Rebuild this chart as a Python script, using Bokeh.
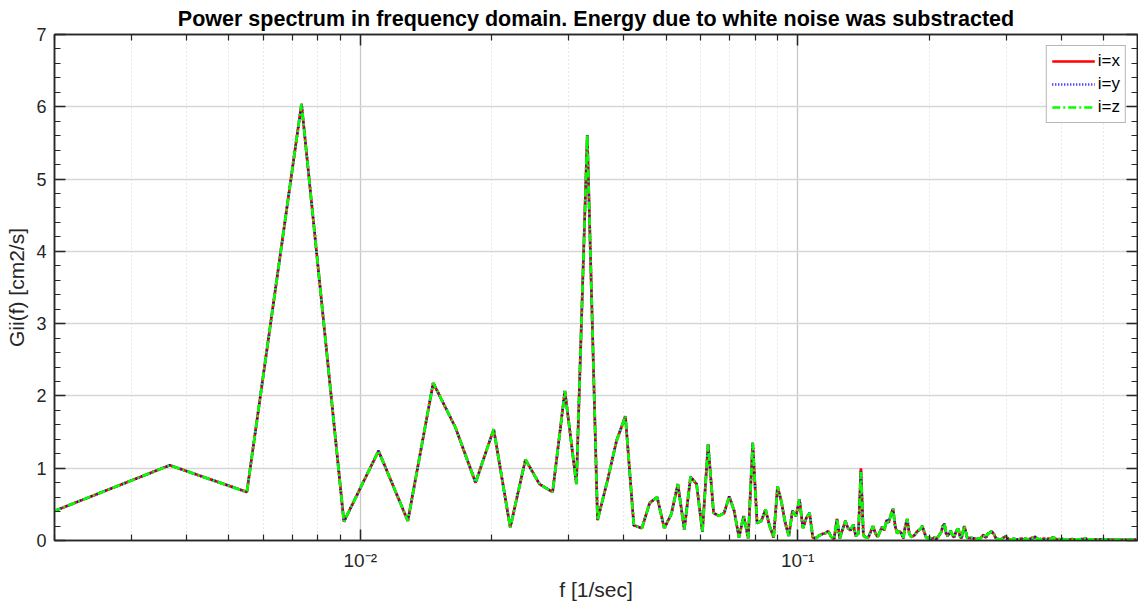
from bokeh.plotting import figure
from bokeh.models import (LogAxis, LinearAxis, FixedTicker, SingleIntervalTicker,
                          Legend, LegendItem, Range1d, CustomJSTickFormatter)
from bokeh.embed import file_html
from bokeh.resources import INLINE

# ---------------- data ----------------
df = 0.001835          # frequency resolution [1/sec]
n_points = 326
freq = [(k + 1) * df for k in range(n_points)]

g_x = [
    0.32, 1.04, 0.67, 6.04, 0.26, 1.24, 0.27, 2.18, 1.56, 0.80,
    1.54, 0.18, 1.12, 0.78, 0.67, 2.07, 0.78, 5.61, 0.28, 0.82,
    1.38, 1.72, 0.21, 0.17, 0.52, 0.60, 0.17, 0.36, 0.78, 0.15,
    0.88, 0.78, 0.12, 1.33, 0.38, 0.34, 0.38, 0.61, 0.41, 0.04,
    0.34, 0.03, 1.35, 0.24, 0.27, 0.43, 0.20, 0.04, 0.75, 0.54,
    0.25, 0.06, 0.41, 0.34, 0.57, 0.17, 0.31, 0.38, 0.04, 0.03,
    0.07, 0.09, 0.10, 0.13, 0.05, 0.02, 0.30, 0.03, 0.15, 0.27,
    0.17, 0.14, 0.22, 0.06, 0.10, 1.00, 0.07, 0.04, 0.04, 0.12,
    0.20, 0.10, 0.05, 0.12, 0.19, 0.14, 0.28, 0.25, 0.36, 0.44,
    0.20, 0.10, 0.13, 0.10, 0.03, 0.20, 0.30, 0.10, 0.05, 0.06,
    0.08, 0.12, 0.14, 0.16, 0.20, 0.12, 0.05, 0.03, 0.04, 0.02,
    0.03, 0.04, 0.02, 0.05, 0.08, 0.12, 0.20, 0.23, 0.10, 0.06,
    0.10, 0.13, 0.08, 0.04, 0.10, 0.15, 0.16, 0.06, 0.03, 0.12,
    0.20, 0.12, 0.03, 0.04, 0.03, 0.04, 0.03, 0.03, 0.02, 0.02,
    0.03, 0.02, 0.04, 0.06, 0.08, 0.05, 0.04, 0.09, 0.10, 0.11,
    0.13, 0.11, 0.09, 0.05, 0.03, 0.02, 0.02, 0.01, 0.02, 0.03,
    0.04, 0.05, 0.06, 0.04, 0.02,
    0.01, 0.02, 0.01, 0.02, 0.03, 0.02, 0.01, 0.02, 0.01, 0.02,
    0.02, 0.03, 0.02, 0.01, 0.02, 0.03, 0.02, 0.01, 0.02, 0.02,
    0.03, 0.04, 0.03, 0.04, 0.05, 0.04, 0.03, 0.02, 0.01, 0.02,
    0.02, 0.01, 0.02, 0.03, 0.02, 0.02, 0.01, 0.02, 0.03, 0.02,
    0.02, 0.03, 0.04, 0.03, 0.04, 0.03, 0.02, 0.02, 0.01, 0.02,
    0.02, 0.01, 0.01, 0.02, 0.02, 0.01, 0.02, 0.01, 0.01, 0.02,
    0.01, 0.02, 0.01, 0.01, 0.02, 0.02, 0.01, 0.02, 0.01, 0.01,
    0.02, 0.01, 0.02, 0.01, 0.02, 0.01, 0.02, 0.02, 0.01, 0.02,
    0.02, 0.03, 0.03, 0.02, 0.02, 0.01, 0.02, 0.01, 0.01, 0.02,
    0.01, 0.01, 0.02, 0.01, 0.01, 0.02, 0.01, 0.01, 0.01, 0.02,
    0.01, 0.01, 0.02, 0.01, 0.01, 0.01, 0.02, 0.01, 0.01, 0.01,
    0.02, 0.01, 0.01, 0.01, 0.02, 0.01, 0.01, 0.02, 0.01, 0.01,
    0.01, 0.01, 0.02, 0.01, 0.01, 0.01, 0.01, 0.02, 0.01, 0.01,
    0.01, 0.02, 0.01, 0.01, 0.01, 0.01, 0.01, 0.02, 0.01, 0.01,
    0.01, 0.01, 0.01, 0.02, 0.01, 0.01, 0.01, 0.01, 0.01, 0.02,
    0.01, 0.01, 0.01, 0.01, 0.02, 0.01, 0.01, 0.01, 0.01, 0.01, 0.01,
]
# the y and z components coincide with x except for the 0.14 Hz peak
g_y = list(g_x)
g_y[75] = 0.96
g_z = list(g_x)
g_z[75] = 0.95

series_labels = ["i=x", "i=y", "i=z"]
x_major_ticks = [0.01, 0.1]
x_minor_ticks = [0.002, 0.003, 0.004, 0.005, 0.006, 0.007, 0.008, 0.009,
                 0.02, 0.03, 0.04, 0.05, 0.06, 0.07, 0.08, 0.09,
                 0.2, 0.3, 0.4, 0.5]
x_tick_labels = {0.01: "10\u207b\u00b2", 0.1: "10\u207b\u00b9"}

# ---------------- figure ----------------
FONT = "Liberation Sans"
AX = "#262626"

p = figure(width=1138, height=605, x_axis_type="log",
           x_range=Range1d(0.002, 0.598), y_range=Range1d(0, 7),
           output_backend="svg", toolbar_location=None,
           min_border_left=54, min_border_right=1,
           min_border_top=34, min_border_bottom=65)
p.background_fill_color = "white"
p.border_fill_color = "white"
p.outline_line_color = AX
p.outline_line_width = 1.5

p.title.text = "Power spectrum in frequency domain. Energy due to white noise was substracted"
p.title.align = "center"
p.title.text_font = FONT
p.title.text_font_size = "21.5px"
p.title.text_font_style = "bold"
p.title.text_color = "black"
p.title.standoff = 7

xticker = FixedTicker(ticks=x_major_ticks, minor_ticks=x_minor_ticks)
yticker = SingleIntervalTicker(interval=1, num_minor_ticks=5)
blank = CustomJSTickFormatter(code="return '';")

def style_axis(ax):
    ax.axis_line_color = AX
    ax.axis_line_width = 1.5
    ax.major_tick_line_color = AX
    ax.minor_tick_line_color = AX
    ax.major_tick_line_width = 1.5
    ax.minor_tick_line_width = 1.2
    ax.major_tick_in = 11
    ax.major_tick_out = 0
    ax.minor_tick_in = 6
    ax.minor_tick_out = 0
    ax.major_label_text_font = FONT
    ax.major_label_text_color = AX
    ax.axis_label_text_font = FONT
    ax.axis_label_text_font_style = "normal"
    ax.axis_label_text_color = AX

xa = p.xaxis[0]
xa.ticker = xticker
xa.major_label_overrides = x_tick_labels
style_axis(xa)
xa.major_label_text_font_size = "19px"
xa.major_label_standoff = 9
xa.axis_label = "f [1/sec]"
xa.axis_label_text_font_size = "21px"
xa.axis_label_standoff = 4

ya = p.yaxis[0]
ya.ticker = yticker
style_axis(ya)
ya.major_label_text_font_size = "18px"
ya.major_label_standoff = 8
ya.axis_label = "Gii(f) [cm2/s]"
ya.axis_label_text_font_size = "21px"
ya.axis_label_standoff = 5

top_ax = LogAxis(ticker=xticker, formatter=blank, major_label_standoff=0)
style_axis(top_ax)
p.add_layout(top_ax, "above")
right_ax = LinearAxis(ticker=yticker, formatter=blank, major_label_standoff=0)
style_axis(right_ax)
p.add_layout(right_ax, "right")

p.xgrid.ticker = xticker
p.xgrid.grid_line_color = "#c8c8c8"
p.xgrid.grid_line_width = 1.3
p.xgrid.minor_grid_line_color = "#d2d2d2"
p.xgrid.minor_grid_line_dash = "1 3"
p.ygrid.ticker = yticker
p.ygrid.grid_line_color = "#d6d6d6"
p.ygrid.grid_line_width = 1.4

LW = 2.7
r_x = p.line(freq, g_x, line_color="#ff0000", line_width=LW)
r_y = p.line(freq, g_y, line_color="#0000ff", line_width=LW, line_dash="1 2")
r_z = p.line(freq, g_z, line_color="#00ff00", line_width=LW, line_dash="8 3 2 3")

legend = Legend(items=[LegendItem(label=series_labels[0], renderers=[r_x]),
                       LegendItem(label=series_labels[1], renderers=[r_y]),
                       LegendItem(label=series_labels[2], renderers=[r_z])],
                location="top_right")
legend.margin = 11
legend.padding = 5
legend.spacing = 3
legend.glyph_width = 43
legend.glyph_height = 20
legend.label_height = 20
legend.label_standoff = 3
legend.label_text_font = FONT
legend.label_text_font_size = "17px"
legend.label_text_color = "black"
legend.border_line_color = "#707070"
legend.border_line_width = 1.5
legend.background_fill_color = "white"
legend.background_fill_alpha = 1.0
p.add_layout(legend, "center")

open("out.html", "w").write(file_html(p, INLINE))
